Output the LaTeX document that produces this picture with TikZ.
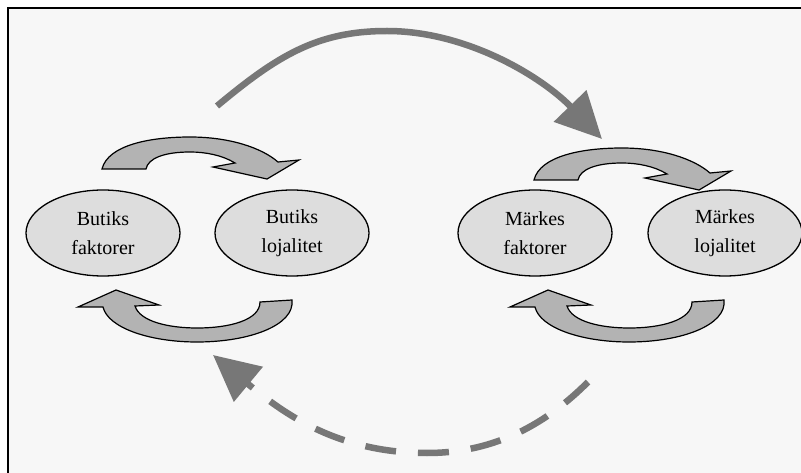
\documentclass[tikz,border=0pt]{standalone}
\usepackage{fontspec}
\setmainfont{Liberation Serif}
\usetikzlibrary{shapes.geometric,arrows.meta}
\definecolor{panelbg}{HTML}{F7F7F7}
\definecolor{ellfill}{HTML}{DDDDDD}
\definecolor{blockfill}{HTML}{B3B3B3}
\definecolor{flowgray}{HTML}{777777}

\begin{document}
\begin{tikzpicture}[x=1pt,y=-1pt,
  factor/.style={ellipse, draw=black, line width=1.3pt, fill=ellfill,
    minimum width=154pt, minimum height=86pt, inner sep=0pt, align=center,
    font=\fontsize{20}{29}\selectfont},
  blockarrow/.style={draw=black, line width=1.2pt, fill=blockfill, line join=miter},
  bigflow/.style={draw=flowgray, line width=6.5pt, -{Triangle[length=46pt,width=44pt]}},
  looptop/.pic={
    \draw[blockarrow] (102,169) .. controls (108,145) and (150,137) .. (190,137)
      .. controls (230,137) and (262,148) .. (278,162)
      -- (299,160) -- (267,179) -- (213,167) -- (235,163)
      .. controls (222,155) and (205,152) .. (190,152)
      .. controls (165,152) and (148,158) .. (146,169) -- cycle;
  },
  loopbottom/.pic={
    \draw[blockarrow] (292,300) .. controls (295,325) and (250,342) .. (197,342)
      .. controls (150,342) and (108,328) .. (103,307)
      -- (78,307) -- (116,290) -- (159,305) -- (135,306)
      .. controls (140,322) and (170,328) .. (197,328)
      .. controls (230,328) and (260,320) .. (260,302) -- cycle;
  },
]
\useasboundingbox (0,0) rectangle (801,473);
\clip (0,0) rectangle (801,473);
\fill[white] (0,0) rectangle (801,473);
% framed panel, its right and bottom edges run past the page
\draw[fill=panelbg, line width=2.2pt] (8,8) rectangle (812,484);

% the four factor ellipses
\node[factor] (bf) at (103,233) {Butiks\\faktorer};
\node[factor] (bl) at (292,233) {Butiks\\lojalitet};
\node[factor] (mf) at (535,233) {Märkes\\faktorer};
\node[factor] (ml) at (725,233) {Märkes\\lojalitet};

% circular block arrows around each pair
\pic at (0,0) {looptop};
\pic at (0,0) {loopbottom};
\pic at (432,11) {looptop};
\pic at (432,0) {loopbottom};

% large flows between the two pairs
\coordinate (a1) at (217,106);
\coordinate (a2) at (602,139);
\draw[bigflow] (a1) .. controls (277,56) and (317,31) .. (387,31)
  .. controls (467,31) and (542,77) .. (a2);

\coordinate (b1) at (588,382);
\coordinate (b2) at (213,355);
\draw[bigflow, dash pattern=on 31pt off 22pt] (b1) .. controls (548,422) and (497,453) .. (427,453)
  .. controls (337,453) and (283,413) .. (b2);
\end{tikzpicture}
\end{document}
